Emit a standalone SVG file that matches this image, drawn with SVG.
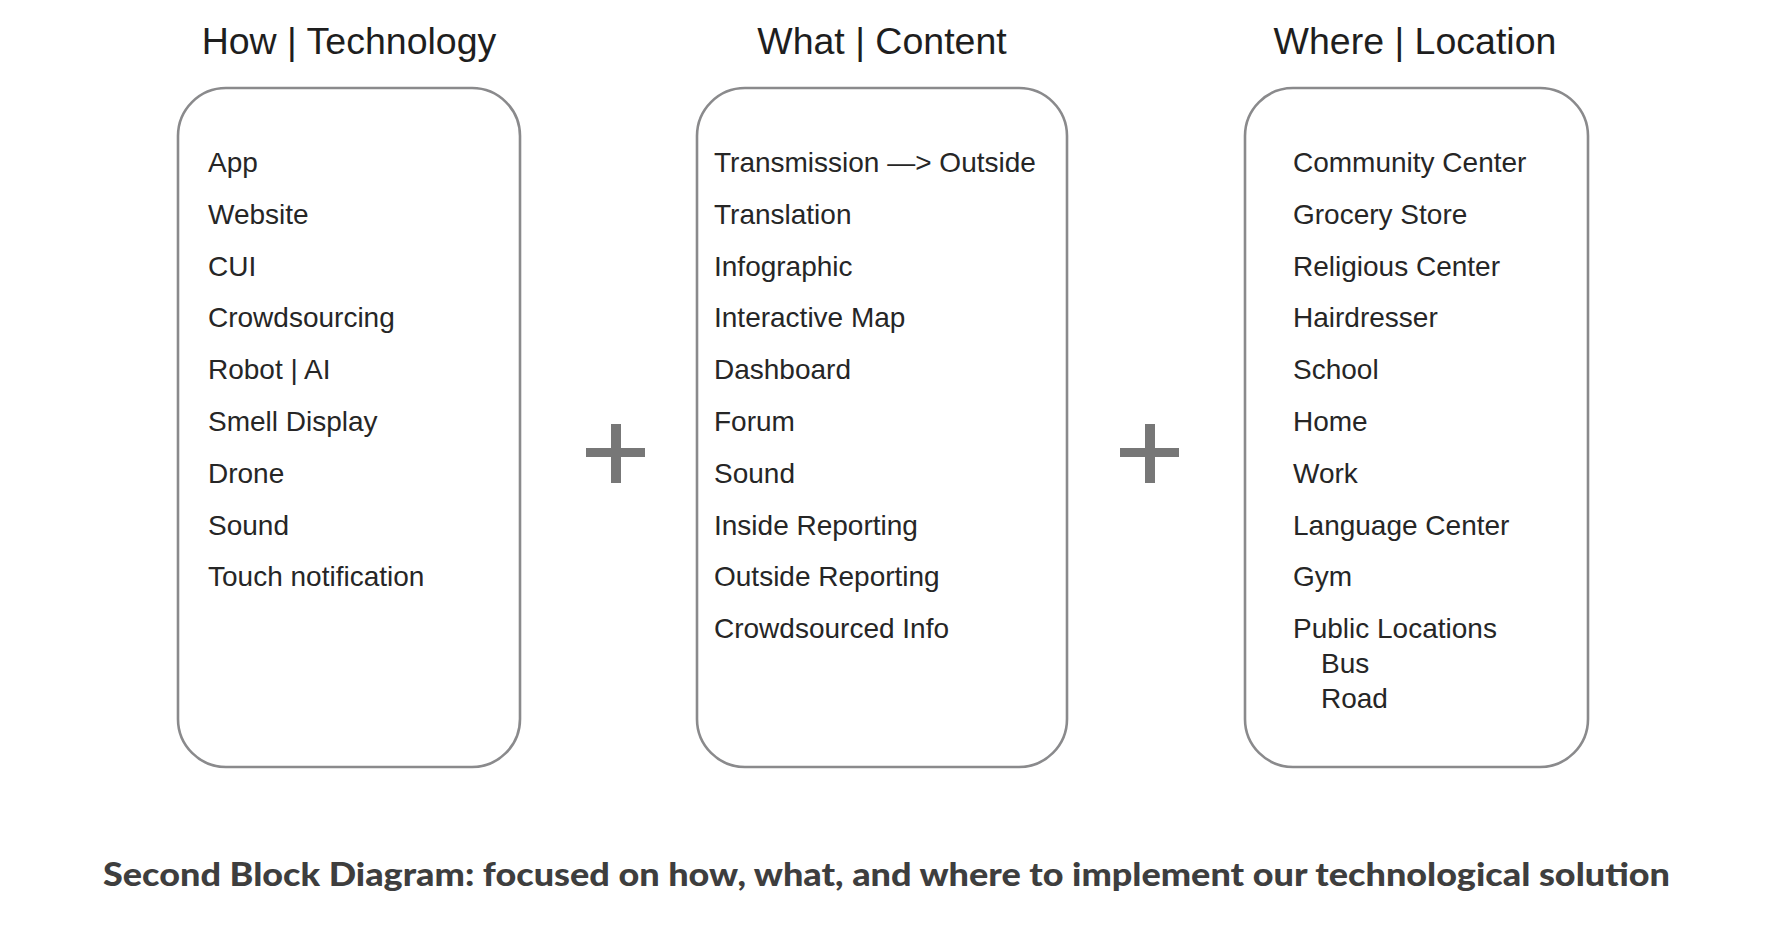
<svg xmlns="http://www.w3.org/2000/svg" width="1784" height="932" viewBox="0 0 1784 932">
  <style>
    .title { font-family: "Liberation Sans", Arial, sans-serif; font-size: 37.5px; fill: #1e1e1e; text-anchor: middle; }
    .item { font-family: "Liberation Sans", Arial, sans-serif; font-size: 28px; fill: #262626; }
    .box { fill: #ffffff; stroke: #8a8a8c; stroke-width: 2.6; }
    .plus { fill: #777777; }
    .caption { font-family: Lato, "Liberation Sans", sans-serif; font-weight: 900; font-size: 32px; fill: #3e3e3e; }
  </style>
  <rect width="1784" height="932" fill="#ffffff"/>

  <!-- How | Technology -->
  <g id="how-technology">
    <text class="title" x="349" y="54">How | Technology</text>
    <rect class="box" x="178" y="88" width="342" height="679" rx="48" ry="48"/>
    <text class="item" x="208" y="172">App</text>
    <text class="item" x="208" y="223.8">Website</text>
    <text class="item" x="208" y="275.6">CUI</text>
    <text class="item" x="208" y="327.4">Crowdsourcing</text>
    <text class="item" x="208" y="379.2">Robot | AI</text>
    <text class="item" x="208" y="431">Smell Display</text>
    <text class="item" x="208" y="482.8">Drone</text>
    <text class="item" x="208" y="534.6">Sound</text>
    <text class="item" x="208" y="586.4">Touch notification</text>
  </g>

  <!-- What | Content -->
  <g id="what-content">
    <text class="title" x="882" y="54">What | Content</text>
    <rect class="box" x="697" y="88" width="370" height="679" rx="48" ry="48"/>
    <text class="item" x="714" y="172">Transmission —&gt; Outside</text>
    <text class="item" x="714" y="223.8">Translation</text>
    <text class="item" x="714" y="275.6">Infographic</text>
    <text class="item" x="714" y="327.4">Interactive Map</text>
    <text class="item" x="714" y="379.2">Dashboard</text>
    <text class="item" x="714" y="431">Forum</text>
    <text class="item" x="714" y="482.8">Sound</text>
    <text class="item" x="714" y="534.6">Inside Reporting</text>
    <text class="item" x="714" y="586.4">Outside Reporting</text>
    <text class="item" x="714" y="638.2">Crowdsourced Info</text>
  </g>

  <!-- Where | Location -->
  <g id="where-location">
    <text class="title" x="1415" y="54">Where | Location</text>
    <rect class="box" x="1245" y="88" width="343" height="679" rx="48" ry="48"/>
    <text class="item" x="1293" y="172">Community Center</text>
    <text class="item" x="1293" y="223.8">Grocery Store</text>
    <text class="item" x="1293" y="275.6">Religious Center</text>
    <text class="item" x="1293" y="327.4">Hairdresser</text>
    <text class="item" x="1293" y="379.2">School</text>
    <text class="item" x="1293" y="431">Home</text>
    <text class="item" x="1293" y="482.8">Work</text>
    <text class="item" x="1293" y="534.6">Language Center</text>
    <text class="item" x="1293" y="586.4">Gym</text>
    <text class="item" x="1293" y="638.2">Public Locations</text>
    <text class="item" x="1321" y="673">Bus</text>
    <text class="item" x="1321" y="708">Road</text>
  </g>

  <!-- plus signs between the blocks -->
  <g id="connectors">
    <g class="plus">
      <rect x="586" y="448" width="59" height="9"/>
      <rect x="611" y="424" width="10" height="59"/>
    </g>
    <g class="plus">
      <rect x="1120" y="448" width="59" height="9"/>
      <rect x="1145" y="424" width="10" height="59"/>
    </g>
  </g>

  <text class="caption" x="103" y="886" textLength="1567" lengthAdjust="spacingAndGlyphs">Second Block Diagram: focused on how, what, and where to implement our technological solution</text>
</svg>
